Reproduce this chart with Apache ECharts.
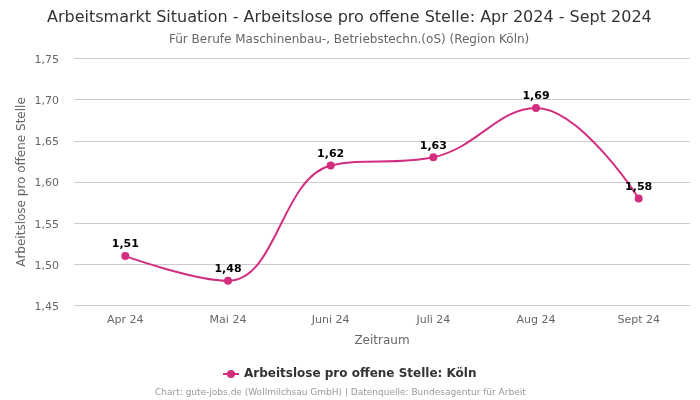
<!DOCTYPE html>
<html>
<head>
<meta charset="utf-8">
<title>Arbeitsmarkt Situation</title>
<script src="https://cdn.jsdelivr.net/npm/echarts@6/dist/echarts.min.js"></script>
<style>
    html, body { margin: 0; padding: 0; background: #fff; }
    #chart { width: 700px; height: 400px; }
</style>
</head>
<body>
<div id="chart"></div>
<script>
    var categories = ['Apr 24', 'Mai 24', 'Juni 24', 'Juli 24', 'Aug 24', 'Sept 24'];
    var values = [1.51, 1.48, 1.62, 1.63, 1.69, 1.58];
    var seriesName = 'Arbeitslose pro offene Stelle: Köln';

    function comma(v, digits) {
        return v.toFixed(digits).replace('.', ',');
    }

    var chart = echarts.init(document.getElementById('chart'), null, { renderer: 'canvas' });

    chart.setOption({
        animation: false,
        textStyle: { fontFamily: '"DejaVu Sans", sans-serif' },
        title: [{
            text: 'Arbeitsmarkt Situation - Arbeitslose pro offene Stelle: Apr 2024 - Sept 2024',
            left: 42,
            top: 5,
            textStyle: { fontSize: 16, fontWeight: 'normal', color: '#333333' }
        }, {
            text: 'Für Berufe Maschinenbau-, Betriebstechn.(oS) (Region Köln)',
            left: 164,
            top: 29,
            textStyle: { fontSize: 12, fontWeight: 'normal', color: '#666666' }
        }, {
            text: 'Chart: gute-jobs.de (Wollmilchsau GmbH) | Datenquelle: Bundesagentur für Arbeit',
            left: 150,
            top: 383,
            textStyle: { fontSize: 9, fontWeight: 'normal', color: '#999999' }
        }],
        legend: {
            data: [seriesName],
            left: 217,
            top: 363,
            itemWidth: 16,
            itemHeight: 10,
            textStyle: { fontSize: 12, fontWeight: 'bold', color: '#333333' }
        },
        grid: { left: 74, right: 10, top: 58.5, bottom: 94.5 },
        xAxis: {
            type: 'category',
            data: categories,
            name: 'Zeitraum',
            nameLocation: 'middle',
            nameGap: 29,
            nameTextStyle: { fontSize: 12, color: '#666666' },
            axisLine: { show: false },
            axisTick: { show: false },
            axisLabel: { fontSize: 11, color: '#666666', margin: 9 }
        },
        yAxis: {
            type: 'value',
            min: 1.45,
            max: 1.75,
            interval: 0.05,
            name: 'Arbeitslose pro offene Stelle',
            nameLocation: 'middle',
            nameGap: 46,
            nameMoveOverlap: false,
            nameTextStyle: { fontSize: 12, color: '#666666' },
            axisLine: { show: false },
            axisTick: { show: false },
            axisLabel: {
                margin: 15,
                formatter: function (v) { return '{tick|' + comma(v, 2) + '}'; },
                rich: {
                    tick: { fontSize: 11, color: '#666666', padding: [3, 0, 0, 0] }
                }
            },
            splitLine: { lineStyle: { color: '#cccccc', width: 1 } }
        },
        series: [{
            name: seriesName,
            type: 'line',
            data: values,
            smooth: 0.4,
            symbol: 'circle',
            symbolSize: 8,
            lineStyle: { color: '#d12e7f', width: 2 },
            itemStyle: { color: '#d12e7f' },
            label: {
                show: true,
                position: 'top',
                distance: 2,
                fontSize: 11,
                fontWeight: 'bold',
                color: '#000000',
                formatter: function (p) { return comma(p.value, 2); }
            }
        }]
    });
</script>
</body>
</html>
